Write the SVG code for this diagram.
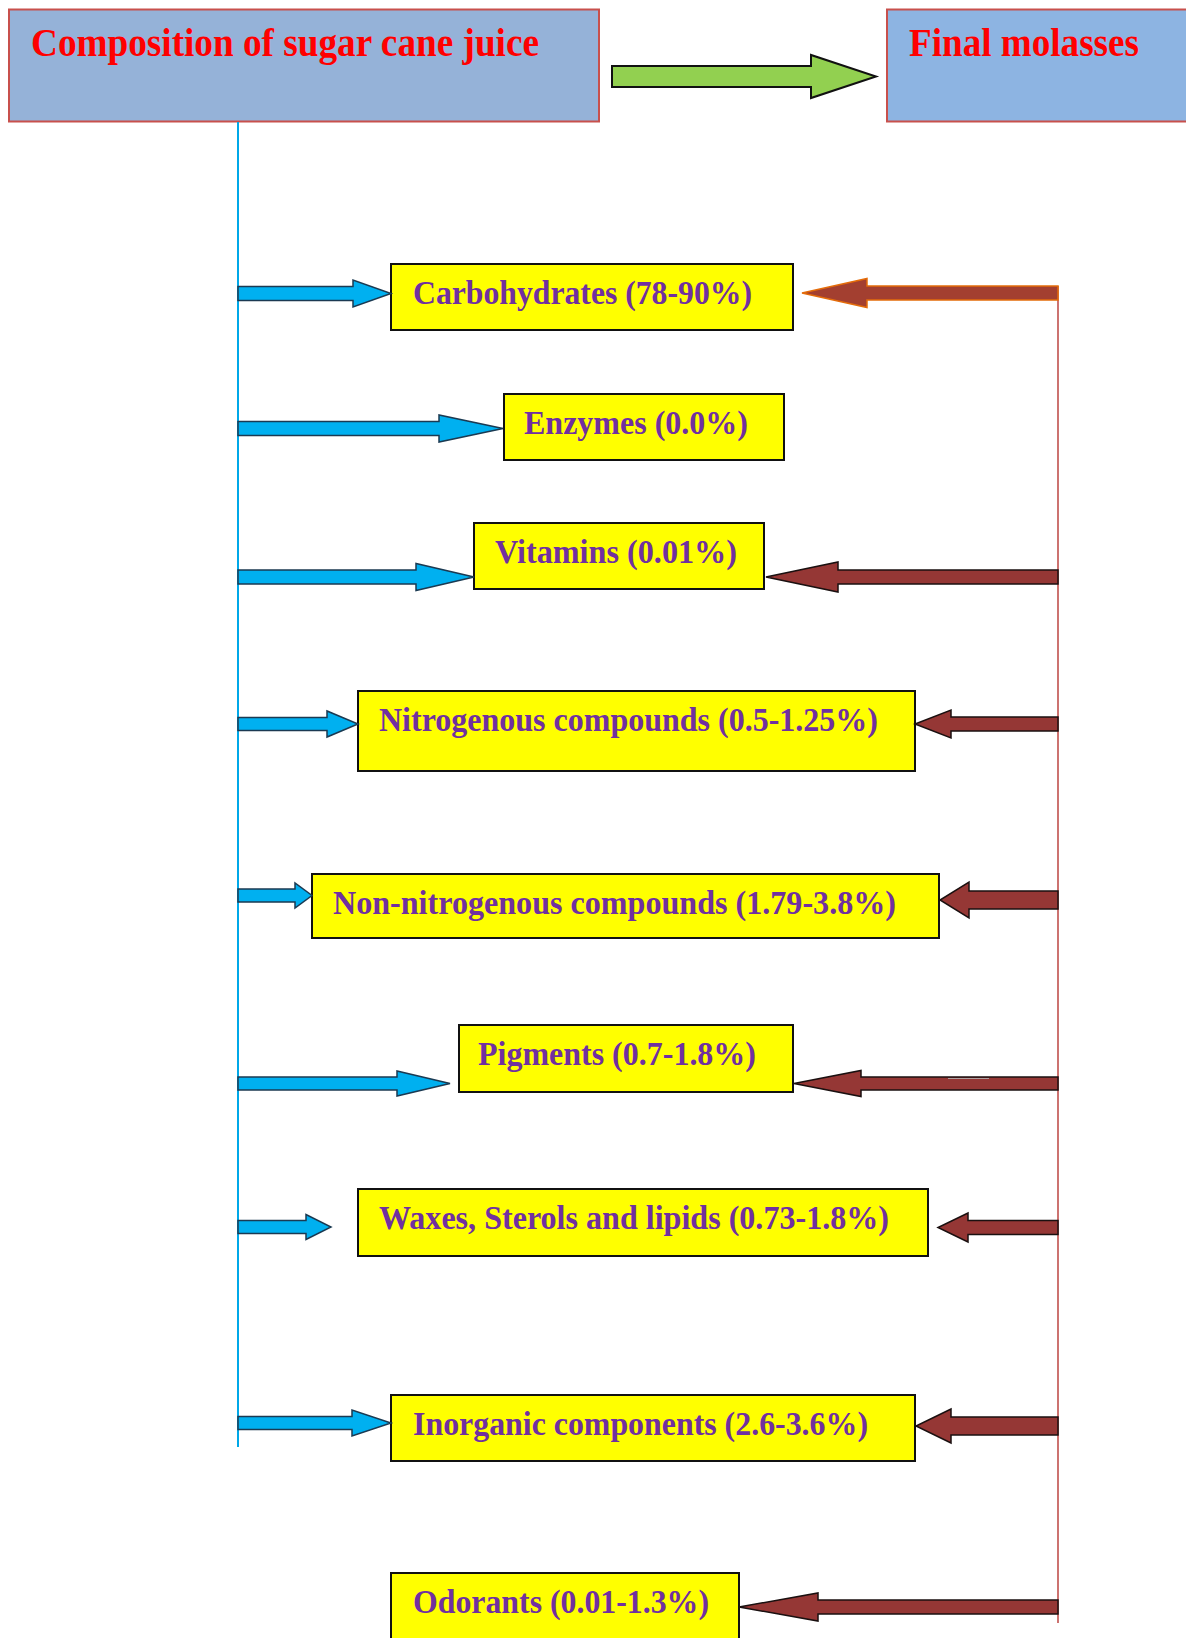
<svg xmlns="http://www.w3.org/2000/svg" width="1186" height="1638" viewBox="0 0 1186 1638">
  <style>
    .head-box { stroke: #c8504c; stroke-width: 2; }
    .head-text { font-family: "Liberation Serif", "Times New Roman", serif; font-weight: bold; font-size: 40px; fill: #ff0000; }
    .item-box { fill: #ffff00; stroke: #111111; stroke-width: 2; }
    .item-text { font-family: "Liberation Serif", "Times New Roman", serif; font-weight: bold; font-size: 33px; fill: #7030a0; }
    .in-arrow { fill: #00b0f0; stroke: #1b3a52; stroke-width: 1.5; stroke-linejoin: miter; }
    .out-arrow { fill: #953735; stroke: #1a1010; stroke-width: 1.5; stroke-linejoin: miter; }
    .out-arrow-first { fill: #a33f30; stroke: #e46c0a; stroke-width: 1.5; }
  </style>
  <defs>
    <linearGradient id="blueShaft" x1="0" y1="0" x2="0" y2="1">
      <stop offset="0" stop-color="#3cc4f5"/>
      <stop offset="0.5" stop-color="#00a8e8"/>
      <stop offset="1" stop-color="#0a86c0"/>
    </linearGradient>
  </defs>

  <rect x="0" y="0" width="1186" height="1638" fill="#ffffff"/>

  <!-- header nodes -->
  <g id="juice">
    <rect class="head-box" x="9" y="9.5" width="590" height="112" fill="#95b2d8"/>
    <text class="head-text" x="31" y="56" textLength="508" lengthAdjust="spacingAndGlyphs">Composition of sugar cane juice</text>
  </g>
  <g id="molasses">
    <rect class="head-box" x="887" y="9.5" width="310" height="112" fill="#8db4e2"/>
    <text class="head-text" x="909" y="56" textLength="230" lengthAdjust="spacingAndGlyphs">Final molasses</text>
  </g>

  <!-- component nodes -->
  <g id="carbohydrates">
    <rect class="item-box" x="391" y="264" width="402" height="66"/>
    <text class="item-text" x="413" y="304" textLength="339" lengthAdjust="spacingAndGlyphs">Carbohydrates (78-90%)</text>
  </g>
  <g id="enzymes">
    <rect class="item-box" x="504" y="394" width="280" height="66"/>
    <text class="item-text" x="524" y="434" textLength="224" lengthAdjust="spacingAndGlyphs">Enzymes (0.0%)</text>
  </g>
  <g id="vitamins">
    <rect class="item-box" x="474" y="523" width="290" height="66"/>
    <text class="item-text" x="495" y="563" textLength="242" lengthAdjust="spacingAndGlyphs">Vitamins (0.01%)</text>
  </g>
  <g id="nitrogenous">
    <rect class="item-box" x="358" y="691" width="557" height="80"/>
    <text class="item-text" x="379" y="731" textLength="499" lengthAdjust="spacingAndGlyphs">Nitrogenous compounds (0.5-1.25%)</text>
  </g>
  <g id="non-nitrogenous">
    <rect class="item-box" x="312" y="874" width="627" height="64"/>
    <text class="item-text" x="333" y="914" textLength="563" lengthAdjust="spacingAndGlyphs">Non-nitrogenous compounds (1.79-3.8%)</text>
  </g>
  <g id="pigments">
    <rect class="item-box" x="459" y="1025" width="334" height="67"/>
    <text class="item-text" x="478" y="1065" textLength="278" lengthAdjust="spacingAndGlyphs">Pigments (0.7-1.8%)</text>
  </g>
  <g id="waxes">
    <rect class="item-box" x="358" y="1189" width="570" height="67"/>
    <text class="item-text" x="379" y="1229" textLength="510" lengthAdjust="spacingAndGlyphs">Waxes, Sterols and lipids (0.73-1.8%)</text>
  </g>
  <g id="inorganic">
    <rect class="item-box" x="391" y="1395" width="524" height="66"/>
    <text class="item-text" x="413" y="1435" textLength="455" lengthAdjust="spacingAndGlyphs">Inorganic components (2.6-3.6%)</text>
  </g>
  <g id="odorants">
    <rect class="item-box" x="391" y="1573" width="348" height="70"/>
    <text class="item-text" x="413" y="1613" textLength="296" lengthAdjust="spacingAndGlyphs">Odorants (0.01-1.3%)</text>
  </g>

  <!-- connectors -->
  <g id="connectors">
    <!-- juice to molasses -->
    <path d="M612,66 L811,66 L811,55 L876,76.5 L811,98 L811,87 L612,87 Z" fill="#92d050" stroke="#111111" stroke-width="2"/>

    <!-- trunk lines -->
    <line x1="238" y1="122" x2="238" y2="1447" stroke="#00a8e8" stroke-width="2"/>
    <line x1="1058" y1="286" x2="1058" y2="1623" stroke="#c0504d" stroke-width="1.6"/>

    <!-- juice branches (pointing right) -->
    <path class="in-arrow" fill="url(#blueShaft)" d="M238,286.5 L353,286.5 L353,280 L391,293.5 L353,307 L353,300.5 L238,300.5 Z"/>
    <path class="in-arrow" d="M238,421.5 L439,421.5 L439,415 L503,428.5 L439,442 L439,435.5 L238,435.5 Z"/>
    <path class="in-arrow" d="M238,570 L416,570 L416,563.5 L474,577 L416,590.5 L416,584 L238,584 Z"/>
    <path class="in-arrow" d="M238,717.5 L327,717.5 L327,711 L358,724 L327,737 L327,730.5 L238,730.5 Z"/>
    <path class="in-arrow" d="M238,889 L295,889 L295,883 L312,895.5 L295,908 L295,902 L238,902 Z"/>
    <path class="in-arrow" d="M238,1077 L397,1077 L397,1071 L450,1083.5 L397,1096 L397,1090 L238,1090 Z"/>
    <path class="in-arrow" d="M238,1220.5 L306,1220.5 L306,1214.5 L331,1227 L306,1239.5 L306,1233.5 L238,1233.5 Z"/>
    <path class="in-arrow" d="M238,1416.5 L352,1416.5 L352,1410 L391,1423 L352,1436 L352,1429.5 L238,1429.5 Z"/>

    <!-- molasses branches (pointing left) -->
    <path class="out-arrow-first" d="M1058,286 L867,286 L867,278.5 L802,293 L867,307.5 L867,300 L1058,300 Z"/>
    <path class="out-arrow" d="M1058,570 L838,570 L838,562 L766,577 L838,592 L838,584 L1058,584 Z"/>
    <path class="out-arrow" d="M1058,717 L951,717 L951,710 L915,724 L951,738 L951,731 L1058,731 Z"/>
    <path class="out-arrow" d="M1058,891 L969,891 L969,882 L940,900 L969,918 L969,909 L1058,909 Z"/>
    <path class="out-arrow" d="M1058,1077 L861,1077 L861,1070.5 L794,1083.5 L861,1096.5 L861,1090 L1058,1090 Z"/>
    <line x1="948" y1="1078.5" x2="989" y2="1078.5" stroke="#b0a0a0" stroke-width="1.2"/>
    <path class="out-arrow" d="M1058,1220.5 L968,1220.5 L968,1213 L938,1227.5 L968,1242 L968,1234.5 L1058,1234.5 Z"/>
    <path class="out-arrow" d="M1058,1417 L951,1417 L951,1409 L916,1426 L951,1443 L951,1435 L1058,1435 Z"/>
    <path class="out-arrow" d="M1058,1600 L818,1600 L818,1593 L739,1607 L818,1621 L818,1614 L1058,1614 Z"/>
  </g>
</svg>
